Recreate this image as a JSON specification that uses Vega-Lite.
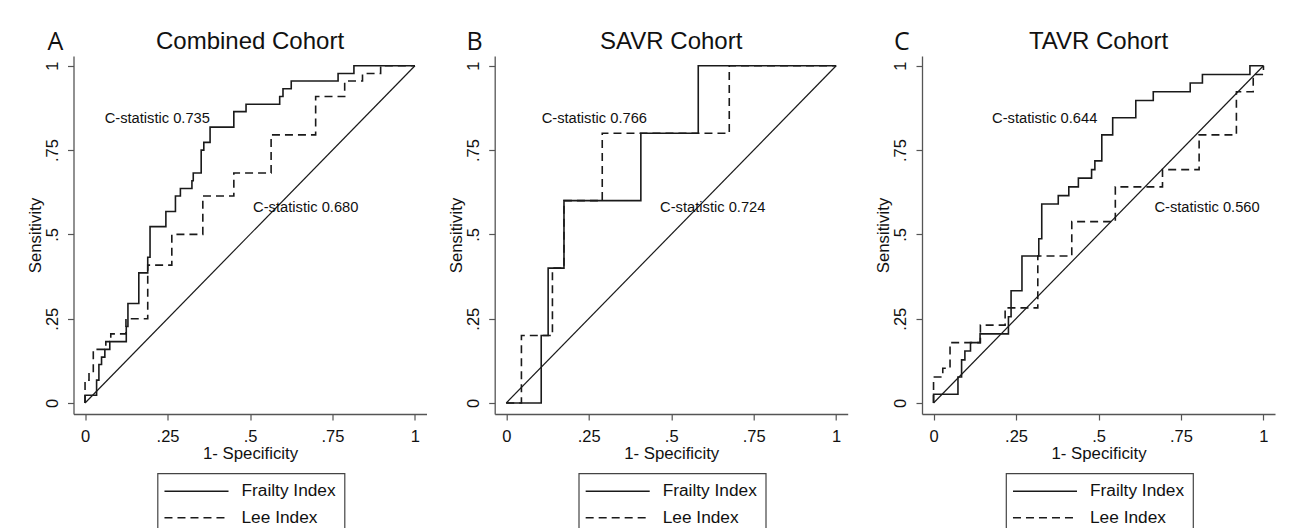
{
  "$schema": "https://vega.github.io/schema/vega-lite/v6.json",
  "background": "white",
  "padding": {"left": 26.5, "top": 29, "right": 5, "bottom": 0},
  "datasets": {
    "diag": [{"x": 0, "y": 0}, {"x": 1, "y": 1}],
    "roc": [
      {"p": "A", "s": "Frailty Index", "i": 0, "x": 0, "y": 0},
      {"p": "A", "s": "Frailty Index", "i": 1, "x": 0.035, "y": 0.023},
      {"p": "A", "s": "Frailty Index", "i": 2, "x": 0.042, "y": 0.068},
      {"p": "A", "s": "Frailty Index", "i": 3, "x": 0.05, "y": 0.114},
      {"p": "A", "s": "Frailty Index", "i": 4, "x": 0.06, "y": 0.136},
      {"p": "A", "s": "Frailty Index", "i": 5, "x": 0.075, "y": 0.159},
      {"p": "A", "s": "Frailty Index", "i": 6, "x": 0.125, "y": 0.182},
      {"p": "A", "s": "Frailty Index", "i": 7, "x": 0.13, "y": 0.227},
      {"p": "A", "s": "Frailty Index", "i": 8, "x": 0.163, "y": 0.295},
      {"p": "A", "s": "Frailty Index", "i": 9, "x": 0.19, "y": 0.386},
      {"p": "A", "s": "Frailty Index", "i": 10, "x": 0.197, "y": 0.432},
      {"p": "A", "s": "Frailty Index", "i": 11, "x": 0.245, "y": 0.523},
      {"p": "A", "s": "Frailty Index", "i": 12, "x": 0.274, "y": 0.568},
      {"p": "A", "s": "Frailty Index", "i": 13, "x": 0.289, "y": 0.614},
      {"p": "A", "s": "Frailty Index", "i": 14, "x": 0.324, "y": 0.636},
      {"p": "A", "s": "Frailty Index", "i": 15, "x": 0.328, "y": 0.659},
      {"p": "A", "s": "Frailty Index", "i": 16, "x": 0.352, "y": 0.682},
      {"p": "A", "s": "Frailty Index", "i": 17, "x": 0.36, "y": 0.75},
      {"p": "A", "s": "Frailty Index", "i": 18, "x": 0.379, "y": 0.773},
      {"p": "A", "s": "Frailty Index", "i": 19, "x": 0.451, "y": 0.818},
      {"p": "A", "s": "Frailty Index", "i": 20, "x": 0.488, "y": 0.864},
      {"p": "A", "s": "Frailty Index", "i": 21, "x": 0.59, "y": 0.886},
      {"p": "A", "s": "Frailty Index", "i": 22, "x": 0.6, "y": 0.909},
      {"p": "A", "s": "Frailty Index", "i": 23, "x": 0.625, "y": 0.932},
      {"p": "A", "s": "Frailty Index", "i": 24, "x": 0.767, "y": 0.955},
      {"p": "A", "s": "Frailty Index", "i": 25, "x": 0.815, "y": 0.977},
      {"p": "A", "s": "Frailty Index", "i": 26, "x": 1, "y": 1},
      {"p": "A", "s": "Lee Index", "i": 0, "x": 0, "y": 0},
      {"p": "A", "s": "Lee Index", "i": 1, "x": 0.012, "y": 0.068},
      {"p": "A", "s": "Lee Index", "i": 2, "x": 0.025, "y": 0.091},
      {"p": "A", "s": "Lee Index", "i": 3, "x": 0.063, "y": 0.159},
      {"p": "A", "s": "Lee Index", "i": 4, "x": 0.078, "y": 0.182},
      {"p": "A", "s": "Lee Index", "i": 5, "x": 0.124, "y": 0.205},
      {"p": "A", "s": "Lee Index", "i": 6, "x": 0.19, "y": 0.25},
      {"p": "A", "s": "Lee Index", "i": 7, "x": 0.263, "y": 0.409},
      {"p": "A", "s": "Lee Index", "i": 8, "x": 0.357, "y": 0.5},
      {"p": "A", "s": "Lee Index", "i": 9, "x": 0.451, "y": 0.614},
      {"p": "A", "s": "Lee Index", "i": 10, "x": 0.564, "y": 0.682},
      {"p": "A", "s": "Lee Index", "i": 11, "x": 0.699, "y": 0.795},
      {"p": "A", "s": "Lee Index", "i": 12, "x": 0.787, "y": 0.909},
      {"p": "A", "s": "Lee Index", "i": 13, "x": 0.841, "y": 0.955},
      {"p": "A", "s": "Lee Index", "i": 14, "x": 0.896, "y": 0.977},
      {"p": "A", "s": "Lee Index", "i": 15, "x": 1, "y": 1},
      {"p": "B", "s": "Frailty Index", "i": 0, "x": 0, "y": 0},
      {"p": "B", "s": "Frailty Index", "i": 1, "x": 0.106, "y": 0},
      {"p": "B", "s": "Frailty Index", "i": 2, "x": 0.127, "y": 0.2},
      {"p": "B", "s": "Frailty Index", "i": 3, "x": 0.175, "y": 0.4},
      {"p": "B", "s": "Frailty Index", "i": 4, "x": 0.408, "y": 0.6},
      {"p": "B", "s": "Frailty Index", "i": 5, "x": 0.582, "y": 0.8},
      {"p": "B", "s": "Frailty Index", "i": 6, "x": 1, "y": 1},
      {"p": "B", "s": "Lee Index", "i": 0, "x": 0, "y": 0},
      {"p": "B", "s": "Lee Index", "i": 1, "x": 0.046, "y": 0},
      {"p": "B", "s": "Lee Index", "i": 2, "x": 0.14, "y": 0.2},
      {"p": "B", "s": "Lee Index", "i": 3, "x": 0.175, "y": 0.4},
      {"p": "B", "s": "Lee Index", "i": 4, "x": 0.291, "y": 0.6},
      {"p": "B", "s": "Lee Index", "i": 5, "x": 0.676, "y": 0.8},
      {"p": "B", "s": "Lee Index", "i": 6, "x": 1, "y": 1},
      {"p": "C", "s": "Frailty Index", "i": 0, "x": 0, "y": 0},
      {"p": "C", "s": "Frailty Index", "i": 1, "x": 0.074, "y": 0.026},
      {"p": "C", "s": "Frailty Index", "i": 2, "x": 0.085, "y": 0.077},
      {"p": "C", "s": "Frailty Index", "i": 3, "x": 0.095, "y": 0.128},
      {"p": "C", "s": "Frailty Index", "i": 4, "x": 0.112, "y": 0.154},
      {"p": "C", "s": "Frailty Index", "i": 5, "x": 0.141, "y": 0.179},
      {"p": "C", "s": "Frailty Index", "i": 6, "x": 0.227, "y": 0.205},
      {"p": "C", "s": "Frailty Index", "i": 7, "x": 0.235, "y": 0.256},
      {"p": "C", "s": "Frailty Index", "i": 8, "x": 0.268, "y": 0.333},
      {"p": "C", "s": "Frailty Index", "i": 9, "x": 0.319, "y": 0.436},
      {"p": "C", "s": "Frailty Index", "i": 10, "x": 0.328, "y": 0.487},
      {"p": "C", "s": "Frailty Index", "i": 11, "x": 0.378, "y": 0.59},
      {"p": "C", "s": "Frailty Index", "i": 12, "x": 0.41, "y": 0.615},
      {"p": "C", "s": "Frailty Index", "i": 13, "x": 0.439, "y": 0.641},
      {"p": "C", "s": "Frailty Index", "i": 14, "x": 0.479, "y": 0.667},
      {"p": "C", "s": "Frailty Index", "i": 15, "x": 0.489, "y": 0.692},
      {"p": "C", "s": "Frailty Index", "i": 16, "x": 0.51, "y": 0.718},
      {"p": "C", "s": "Frailty Index", "i": 17, "x": 0.543, "y": 0.795},
      {"p": "C", "s": "Frailty Index", "i": 18, "x": 0.613, "y": 0.846},
      {"p": "C", "s": "Frailty Index", "i": 19, "x": 0.666, "y": 0.897},
      {"p": "C", "s": "Frailty Index", "i": 20, "x": 0.778, "y": 0.923},
      {"p": "C", "s": "Frailty Index", "i": 21, "x": 0.815, "y": 0.949},
      {"p": "C", "s": "Frailty Index", "i": 22, "x": 0.959, "y": 0.974},
      {"p": "C", "s": "Frailty Index", "i": 23, "x": 1, "y": 1},
      {"p": "C", "s": "Lee Index", "i": 0, "x": 0, "y": 0},
      {"p": "C", "s": "Lee Index", "i": 1, "x": 0.028, "y": 0.077},
      {"p": "C", "s": "Lee Index", "i": 2, "x": 0.05, "y": 0.103},
      {"p": "C", "s": "Lee Index", "i": 3, "x": 0.142, "y": 0.179},
      {"p": "C", "s": "Lee Index", "i": 4, "x": 0.217, "y": 0.231},
      {"p": "C", "s": "Lee Index", "i": 5, "x": 0.316, "y": 0.282},
      {"p": "C", "s": "Lee Index", "i": 6, "x": 0.419, "y": 0.436},
      {"p": "C", "s": "Lee Index", "i": 7, "x": 0.551, "y": 0.538},
      {"p": "C", "s": "Lee Index", "i": 8, "x": 0.694, "y": 0.641},
      {"p": "C", "s": "Lee Index", "i": 9, "x": 0.805, "y": 0.692},
      {"p": "C", "s": "Lee Index", "i": 10, "x": 0.918, "y": 0.795},
      {"p": "C", "s": "Lee Index", "i": 11, "x": 0.969, "y": 0.923},
      {"p": "C", "s": "Lee Index", "i": 12, "x": 1, "y": 0.974},
      {"p": "C", "s": "Lee Index", "i": 13, "x": 1, "y": 1}
    ],
    "notes": [
      {"p": "A", "k": "n", "t": "C-statistic 0.735", "x": 0.219, "y": 0.843},
      {"p": "A", "k": "n", "t": "C-statistic 0.680", "x": 0.669, "y": 0.579},
      {"p": "A", "k": "l", "t": "A", "x": -0.09, "y": 1.071},
      {"p": "B", "k": "n", "t": "C-statistic 0.766", "x": 0.267, "y": 0.843},
      {"p": "B", "k": "n", "t": "C-statistic 0.724", "x": 0.626, "y": 0.579},
      {"p": "B", "k": "l", "t": "B", "x": -0.096, "y": 1.071},
      {"p": "C", "k": "n", "t": "C-statistic 0.644", "x": 0.337, "y": 0.843},
      {"p": "C", "k": "n", "t": "C-statistic 0.560", "x": 0.829, "y": 0.579},
      {"p": "C", "k": "l", "t": "C", "x": -0.096, "y": 1.071}
    ]
  },
  "hconcat": [
    {
      "width": 353, "height": 358,
      "title": {"text": "Combined Cohort", "dy": 27},
      "encoding": {
        "x": {"field": "x", "type": "quantitative", "scale": {"domain": [-0.035, 1.035], "nice": false, "zero": false},
              "axis": {"title": "1- Specificity", "values": [0, 0.25, 0.5, 0.75, 1], "labelExpr": "datum.value == 0 ? '0' : datum.value == 1 ? '1' : replace(format(datum.value, '.2~f'), '0.', '.')"}},
        "y": {"field": "y", "type": "quantitative", "scale": {"domain": [-0.0326, 1.029], "nice": false, "zero": false},
              "axis": {"title": "Sensitivity", "values": [0, 0.25, 0.5, 0.75, 1], "labelExpr": "datum.value == 0 ? '0' : datum.value == 1 ? '1' : replace(format(datum.value, '.2~f'), '0.', '.')"}}
      },
      "layer": [
        {"data": {"name": "diag"}, "mark": {"type": "line", "color": "#1a1a1a", "strokeWidth": 1.2}, "encoding": {}},
        {"data": {"name": "roc"}, "transform": [{"filter": "datum.p === 'A'"}],
         "mark": {"type": "line", "interpolate": "step-before", "color": "#1a1a1a", "strokeWidth": 1.6},
         "encoding": {
           "order": {"field": "i", "type": "quantitative"},
           "strokeDash": {"field": "s", "type": "nominal", "scale": {"domain": ["Frailty Index", "Lee Index"], "range": [[1, 0], [8, 5]]},
             "legend": {"title": null, "orient": "none", "legendX": 84, "legendY": 417.3, "direction": "vertical",
               "symbolType": "M-3.05,0L3.05,0M13.15,0Z", "symbolSize": 441, "symbolStrokeWidth": 1.5, "symbolStrokeColor": "#1a1a1a", "symbolFillColor": "transparent",
               "symbolOffset": 21, "labelOffset": 33.5, "labelFontSize": 17.3, "labelFont": "Liberation Sans", "labelColor": "#111",
               "padding": 6.5, "rowPadding": 6.5, "strokeColor": "#444", "fillColor": "white",
               "encode": {"legend": {"update": {"strokeWidth": {"value": 1.2}}}}}}
         }},
        {"data": {"name": "notes"}, "transform": [{"filter": "datum.p === 'A' && datum.k === 'n'"}],
         "mark": {"type": "text", "fontSize": 14.7, "font": "Liberation Sans", "color": "#111", "align": "center", "baseline": "middle"},
         "encoding": {"text": {"field": "t", "type": "nominal"}}},
        {"data": {"name": "notes"}, "transform": [{"filter": "datum.p === 'A' && datum.k === 'l'"}],
         "mark": {"type": "text", "fontSize": 25, "font": "Open Sans", "color": "#111", "align": "center", "baseline": "middle"},
         "encoding": {"text": {"field": "t", "type": "nominal"}}}
      ]
    },
    {
      "hconcat": [
        {
          "width": 353, "height": 358,
          "title": {"text": "SAVR Cohort", "dy": 27},
          "encoding": {
            "x": {"field": "x", "type": "quantitative", "scale": {"domain": [-0.035, 1.035], "nice": false, "zero": false},
                  "axis": {"title": "1- Specificity", "values": [0, 0.25, 0.5, 0.75, 1], "labelExpr": "datum.value == 0 ? '0' : datum.value == 1 ? '1' : replace(format(datum.value, '.2~f'), '0.', '.')"}},
            "y": {"field": "y", "type": "quantitative", "scale": {"domain": [-0.0326, 1.029], "nice": false, "zero": false},
                  "axis": {"title": "Sensitivity", "values": [0, 0.25, 0.5, 0.75, 1], "labelExpr": "datum.value == 0 ? '0' : datum.value == 1 ? '1' : replace(format(datum.value, '.2~f'), '0.', '.')"}}
          },
          "layer": [
            {"data": {"name": "diag"}, "mark": {"type": "line", "color": "#1a1a1a", "strokeWidth": 1.2}, "encoding": {}},
            {"data": {"name": "roc"}, "transform": [{"filter": "datum.p === 'B'"}],
             "mark": {"type": "line", "interpolate": "step-before", "color": "#1a1a1a", "strokeWidth": 1.6},
             "encoding": {
               "order": {"field": "i", "type": "quantitative"},
               "strokeDash": {"field": "s", "type": "nominal", "scale": {"domain": ["Frailty Index", "Lee Index"], "range": [[1, 0], [8, 5]]},
                 "legend": {"title": null, "orient": "none", "legendX": 84, "legendY": 417.3, "direction": "vertical",
                   "symbolType": "M-3.05,0L3.05,0M13.15,0Z", "symbolSize": 441, "symbolStrokeWidth": 1.5, "symbolStrokeColor": "#1a1a1a", "symbolFillColor": "transparent",
                   "symbolOffset": 21, "labelOffset": 33.5, "labelFontSize": 17.3, "labelFont": "Liberation Sans", "labelColor": "#111",
                   "padding": 6.5, "rowPadding": 6.5, "strokeColor": "#444", "fillColor": "white",
                   "encode": {"legend": {"update": {"strokeWidth": {"value": 1.2}}}}}}
             }},
            {"data": {"name": "notes"}, "transform": [{"filter": "datum.p === 'B' && datum.k === 'n'"}],
             "mark": {"type": "text", "fontSize": 14.7, "font": "Liberation Sans", "color": "#111", "align": "center", "baseline": "middle"},
             "encoding": {"text": {"field": "t", "type": "nominal"}}},
            {"data": {"name": "notes"}, "transform": [{"filter": "datum.p === 'B' && datum.k === 'l'"}],
             "mark": {"type": "text", "fontSize": 25, "font": "Open Sans", "color": "#111", "align": "center", "baseline": "middle"},
             "encoding": {"text": {"field": "t", "type": "nominal"}}}
          ]
        },
        {
          "width": 353, "height": 358,
          "title": {"text": "TAVR Cohort", "dy": 27},
          "encoding": {
            "x": {"field": "x", "type": "quantitative", "scale": {"domain": [-0.035, 1.035], "nice": false, "zero": false},
                  "axis": {"title": "1- Specificity", "values": [0, 0.25, 0.5, 0.75, 1], "labelExpr": "datum.value == 0 ? '0' : datum.value == 1 ? '1' : replace(format(datum.value, '.2~f'), '0.', '.')"}},
            "y": {"field": "y", "type": "quantitative", "scale": {"domain": [-0.0326, 1.029], "nice": false, "zero": false},
                  "axis": {"title": "Sensitivity", "values": [0, 0.25, 0.5, 0.75, 1], "labelExpr": "datum.value == 0 ? '0' : datum.value == 1 ? '1' : replace(format(datum.value, '.2~f'), '0.', '.')"}}
          },
          "layer": [
            {"data": {"name": "diag"}, "mark": {"type": "line", "color": "#1a1a1a", "strokeWidth": 1.2}, "encoding": {}},
            {"data": {"name": "roc"}, "transform": [{"filter": "datum.p === 'C'"}],
             "mark": {"type": "line", "interpolate": "step-before", "color": "#1a1a1a", "strokeWidth": 1.6},
             "encoding": {
               "order": {"field": "i", "type": "quantitative"},
               "strokeDash": {"field": "s", "type": "nominal", "scale": {"domain": ["Frailty Index", "Lee Index"], "range": [[1, 0], [8, 5]]},
                 "legend": {"title": null, "orient": "none", "legendX": 84, "legendY": 417.3, "direction": "vertical",
                   "symbolType": "M-3.05,0L3.05,0M13.15,0Z", "symbolSize": 441, "symbolStrokeWidth": 1.5, "symbolStrokeColor": "#1a1a1a", "symbolFillColor": "transparent",
                   "symbolOffset": 21, "labelOffset": 33.5, "labelFontSize": 17.3, "labelFont": "Liberation Sans", "labelColor": "#111",
                   "padding": 6.5, "rowPadding": 6.5, "strokeColor": "#444", "fillColor": "white",
                   "encode": {"legend": {"update": {"strokeWidth": {"value": 1.2}}}}}}
             }},
            {"data": {"name": "notes"}, "transform": [{"filter": "datum.p === 'C' && datum.k === 'n'"}],
             "mark": {"type": "text", "fontSize": 14.7, "font": "Liberation Sans", "color": "#111", "align": "center", "baseline": "middle"},
             "encoding": {"text": {"field": "t", "type": "nominal"}}},
            {"data": {"name": "notes"}, "transform": [{"filter": "datum.p === 'C' && datum.k === 'l'"}],
             "mark": {"type": "text", "fontSize": 25, "font": "Open Sans", "color": "#111", "align": "center", "baseline": "middle"},
             "encoding": {"text": {"field": "t", "type": "nominal"}}}
          ]
        }
      ],
      "spacing": 74.3,
      "bounds": "flush",
      "resolve": {"scale": {"strokeDash": "independent"}, "legend": {"strokeDash": "independent"}}
    }
  ],
  "spacing": 68.2,
  "bounds": "flush",
  "resolve": {"scale": {"strokeDash": "independent"}, "legend": {"strokeDash": "independent"}},
  "config": {
    "font": "Liberation Sans",
    "view": {"stroke": null},
    "axis": {"grid": false, "domainColor": "#555", "domainWidth": 1.3, "tickColor": "#555", "tickWidth": 1.2, "tickSize": 6,
             "labelFont": "Liberation Sans", "labelFontSize": 16.5, "labelColor": "#111", "labelFlush": false, "labelOverlap": false,
             "titleFont": "Liberation Sans", "titleFontSize": 16.8, "titleFontWeight": "normal", "titleColor": "#111"},
    "axisX": {"labelPadding": 8, "titlePadding": 1, "labelAngle": 0},
    "axisY": {"labelAngle": -90, "labelAlign": "center", "labelBaseline": "alphabetic", "labelPadding": 10.5, "titlePadding": 0},
    "title": {"font": "Liberation Sans", "fontSize": 24, "fontWeight": "normal", "color": "#111", "anchor": "middle", "offset": 3}
  }
}
